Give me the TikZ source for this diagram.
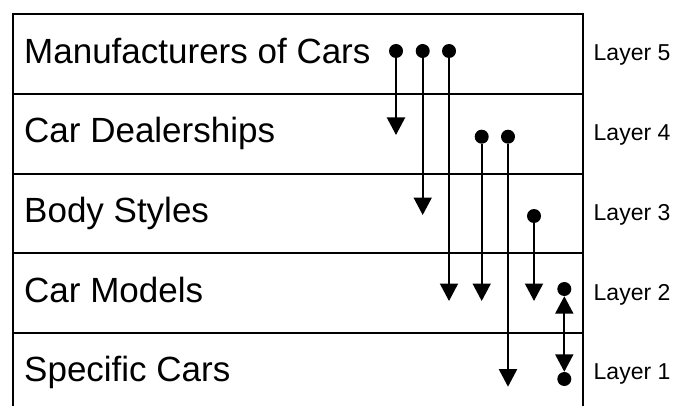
\documentclass[tikz,border=0pt]{standalone}
\usepackage{fontspec}
\setmainfont{Liberation Sans}
\usetikzlibrary{arrows.meta}
\begin{document}
\begin{tikzpicture}[x=1pt,y=-1pt,
  layerbox/.style={draw, line width=2pt, minimum width=570pt, minimum height=79.7pt, inner sep=0pt, anchor=north west},
  rowtext/.style={inner sep=0pt, anchor=base west, font=\fontsize{35}{42}\selectfont},
  layertext/.style={inner sep=0pt, anchor=base west, font=\fontsize{23}{28}\selectfont},
  dot/.style={circle, fill=black, inner sep=0pt, minimum size=14pt},
  link/.style={line width=2pt, -{Triangle[width=18pt,length=17.5pt]}},
  twoway/.style={line width=2pt, {Triangle[width=18pt,length=17.5pt]}-{Triangle[width=18pt,length=17.5pt]}}]
\useasboundingbox (0,0) rectangle (674,406);

% the five layers, top to bottom
\node[layerbox] (r5) at (12,13.3) {};
\node[layerbox] (r4) at (12,93.0) {};
\node[layerbox] (r3) at (12,172.7) {};
\node[layerbox] (r2) at (12,252.4) {};
\node[layerbox] (r1) at (12,332.1) {};

% layer names
\node[rowtext] (n5) at (24,63.3) {Manufacturers of Cars};
\node[rowtext] (n4) at (24,143.0) {Car Dealerships};
\node[rowtext] (n3) at (24,222.5) {Body Styles};
\node[rowtext] (n2) at (24,302.0) {Car Models};
\node[rowtext] (n1) at (24,381.5) {Specific Cars};

% layer numbers
\node[layertext] (l5) at (593.5,61.0) {Layer 5};
\node[layertext] (l4) at (593.5,140.7) {Layer 4};
\node[layertext] (l3) at (593.5,220.4) {Layer 3};
\node[layertext] (l2) at (593.5,300.1) {Layer 2};
\node[layertext] (l1) at (593.5,379.8) {Layer 1};

% connector origins
\node[dot] (a1) at (396,51) {};
\node[dot] (a2) at (422.7,51) {};
\node[dot] (a3) at (449,51) {};
\node[dot] (b1) at (481.7,136.7) {};
\node[dot] (b2) at (508,136.7) {};
\node[dot] (c1) at (534,216) {};
\node[dot] (e1) at (564.3,289) {};
\node[dot] (e2) at (564.3,379) {};

% arrow tips
\coordinate (ta1) at (396,135);
\coordinate (ta2) at (422.7,215);
\coordinate (ta3) at (449,301);
\coordinate (tb1) at (481.7,301);
\coordinate (tb2) at (508,386.7);
\coordinate (tc1) at (534,301);

\draw[link] (a1) -- (ta1);
\draw[link] (a2) -- (ta2);
\draw[link] (a3) -- (ta3);
\draw[link] (b1) -- (tb1);
\draw[link] (b2) -- (tb2);
\draw[link] (c1) -- (tc1);
\draw[twoway] (e1) -- (e2);
\end{tikzpicture}
\end{document}
